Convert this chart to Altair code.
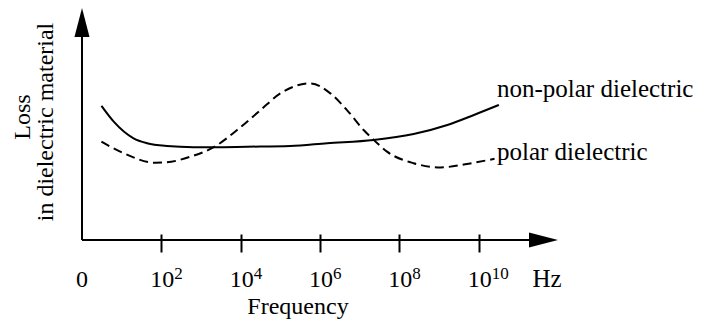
import altair as alt
import pandas as pd

# ---- data (x = log10 of frequency, y = loss, arbitrary units) ----
freq_exp_nonpolar = [0.49, 0.80, 1.30, 1.64, 2.14, 2.81, 3.32, 4.16, 5.25, 6.18, 7.35, 8.36, 9.21, 9.88, 10.51]
loss_nonpolar = [5.78, 5.10, 4.38, 4.17, 4.05, 4.00, 4.00, 4.02, 4.05, 4.17, 4.31, 4.57, 4.96, 5.39, 5.82]

freq_exp_polar = [0.49, 1.05, 1.85, 2.14, 2.73, 3.32, 3.91, 4.50, 5.00, 5.76, 6.26, 6.68, 7.10, 7.40, 7.69, 8.36, 9.04, 9.71, 10.40]
loss_polar = [4.24, 3.74, 3.33, 3.35, 3.59, 4.00, 4.74, 5.60, 6.32, 6.75, 6.32, 5.60, 4.74, 4.24, 3.81, 3.31, 3.13, 3.28, 3.50]

tick_exponents = [2, 4, 6, 8, 10]
tick_base = "10"
zero_label = "0"
unit_label = "Hz"
x_title = "Frequency"
y_title_lines = ["Loss", "in dielectric material"]
series_labels = ["non-polar dielectric", "polar dielectric"]
x_axis_end = [12.0]
y_axis_end = [10.0]

# ---- layout ----
W, H = 476, 232
FONT = "Liberation Serif, Times New Roman, serif"
FS = 24
FS_TXT = 25
FS_EXP = 17

xs = alt.Scale(domain=[0, 12], nice=False, zero=False)
ys = alt.Scale(domain=[0, 10], nice=False, zero=False)
x_axis = alt.Axis(values=tick_exponents, domain=False, grid=False, labels=False, title=None,
                  tickSize=18, tickWidth=2, tickColor="black", offset=-6)


def X(field):
    return alt.X(field, type="quantitative", scale=xs, axis=x_axis)


def Y(field):
    return alt.Y(field, type="quantitative", scale=ys, axis=None)


df_np = pd.DataFrame({"f": freq_exp_nonpolar, "loss": loss_nonpolar})
df_p = pd.DataFrame({"f": freq_exp_polar, "loss": loss_polar})

nonpolar = alt.Chart(df_np).mark_line(color="black", strokeWidth=2, interpolate="monotone").encode(
    x=X("f"), y=Y("loss"))
polar = alt.Chart(df_p).mark_line(color="black", strokeWidth=2, strokeDash=[9, 5],
                                  interpolate="monotone").encode(x=X("f"), y=Y("loss"))

# axis lines
df_xa = pd.DataFrame({"x": [0.0], "x2": [x_axis_end[0] - 0.4], "y": [0.0]})
df_ya = pd.DataFrame({"x": [0.0], "y": [0.0], "y2": [y_axis_end[0] - 0.6]})
x_line = alt.Chart(df_xa).mark_rule(color="black", strokeWidth=2).encode(
    x=X("x"), x2="x2", y=Y("y"))
y_line = alt.Chart(df_ya).mark_rule(color="black", strokeWidth=2).encode(
    x=X("x"), y=Y("y"), y2="y2")

# arrowheads (tip located at the point)
df_xarrow = pd.DataFrame({"x": x_axis_end, "y": [0.0]})
df_yarrow = pd.DataFrame({"x": [0.0], "y": y_axis_end})
x_arrow = alt.Chart(df_xarrow).mark_point(shape="M0,0L-2,-0.52L-2,0.52Z", size=841, filled=True,
                                          color="black", opacity=1, strokeWidth=0).encode(
    x=X("x"), y=Y("y"))
y_arrow = alt.Chart(df_yarrow).mark_point(shape="M0,0L-0.52,2L0.52,2Z", size=841, filled=True,
                                          color="black", opacity=1, strokeWidth=0).encode(
    x=X("x"), y=Y("y"))

# tick labels
df_ticks = pd.DataFrame({"e": tick_exponents,
                         "base": [tick_base] * len(tick_exponents),
                         "exp": [str(v) for v in tick_exponents]})
base_txt = alt.Chart(df_ticks).mark_text(font=FONT, fontSize=FS, align="right", baseline="alphabetic",
                                         dx=13, color="black").encode(
    x=X("e"), y=alt.value(279), text="base:N")
exp_txt = alt.Chart(df_ticks).mark_text(font=FONT, fontSize=FS_EXP, align="left", baseline="alphabetic",
                                        dx=13, color="black").encode(
    x=X("e"), y=alt.value(271), text="exp:N")

df_zero = pd.DataFrame({"x": [0.0], "t": [zero_label]})
zero_txt = alt.Chart(df_zero).mark_text(font=FONT, fontSize=FS, align="center", baseline="alphabetic",
                                        color="black").encode(
    x=X("x"), y=alt.value(279), text="t:N")

# annotations (pixel positions in the plot area)
df_ann = pd.DataFrame({
    "t": [unit_label, x_title],
    "px": [465, 216],
    "py": [279, 306],
    "fs": [FS_TXT, FS],
})
ann = alt.Chart(df_ann).mark_text(font=FONT, baseline="alphabetic", color="black",
                                  align="center").encode(
    x=alt.X("px:Q", scale=None, axis=None), y=alt.Y("py:Q", scale=None, axis=None), text="t:N",
    size=alt.Size("fs:Q", scale=None, legend=None))

df_series = pd.DataFrame({"t": series_labels, "px": [415, 415], "py": [89, 152]})
series_txt = alt.Chart(df_series).mark_text(font=FONT, fontSize=FS_TXT, baseline="alphabetic",
                                            color="black", align="left").encode(
    x=alt.X("px:Q", scale=None, axis=None), y=alt.Y("py:Q", scale=None, axis=None), text="t:N")

df_ytitle = pd.DataFrame({"t": y_title_lines, "px": [-52, -29], "py": [109, 114]})
ytitle = alt.Chart(df_ytitle).mark_text(font=FONT, fontSize=FS, baseline="alphabetic", color="black",
                                        align="center", angle=270).encode(
    x=alt.X("px:Q", scale=None, axis=None), y=alt.Y("py:Q", scale=None, axis=None), text="t:N")

chart = alt.layer(
    x_line, y_line, x_arrow, y_arrow, nonpolar, polar,
    base_txt, exp_txt, zero_txt, ann, series_txt, ytitle,
).resolve_scale(x="shared").properties(
    width=W, height=H,
    autosize=alt.AutoSizeParams(type="none"),
    padding={"left": 74, "top": 0, "right": 135, "bottom": 80},
    background="white",
).configure_view(stroke=None)

chart.save("out.html", embed_options={"renderer": "svg", "actions": False})
